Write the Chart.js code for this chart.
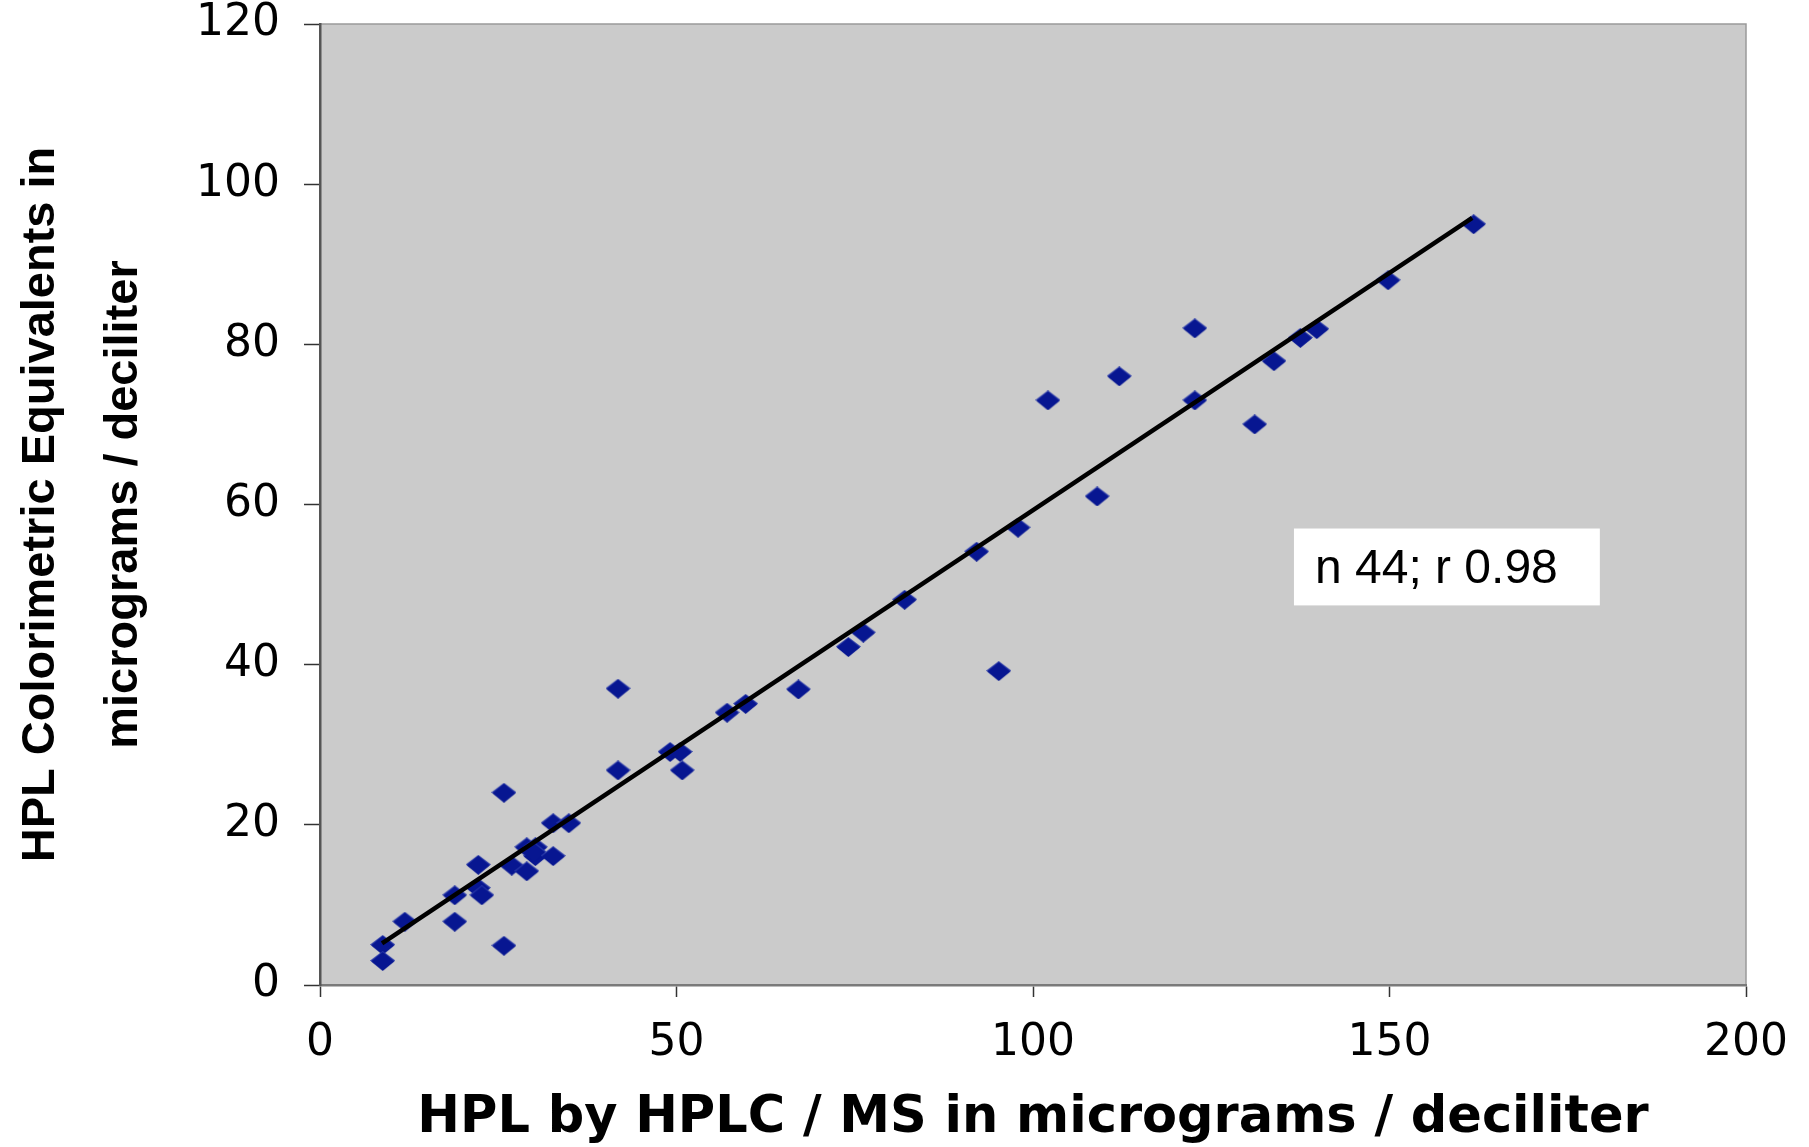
<!DOCTYPE html>
<html>
<head>
<meta charset="utf-8">
<script src="https://cdn.jsdelivr.net/npm/chart.js@4.4.1/dist/chart.umd.min.js"></script>
<style>
  body { margin: 0; background: #fff; }
  canvas { display: block; }
</style>
</head>
<body>
<canvas id="myChart" width="1809" height="1147"></canvas>
<script>
// HPLC/MS values (x) and colorimetric equivalents (y)
var hplcValues = [8.8, 8.8, 11.9, 18.9, 18.9, 22.2, 22.2, 22.7, 25.8, 25.8, 26.9, 29, 29, 30.2, 30.2, 30, 32.7, 32.7, 34.9, 41.8, 41.8,
                  49.1, 50.5, 50.8, 57.1, 59.7, 67.1, 74.1, 76.2, 82, 92.1, 95.2, 97.9, 102.1, 109, 112.1, 122.7, 122.7, 131.1,
                  133.8, 137.5, 139.8, 149.8, 161.8];
var colorValues = [5, 3, 7.9, 11.2, 7.9, 15, 12.1, 11.2, 24, 4.9, 14.9, 17.2, 14.2, 17.2, 16.1, 16.6, 20.2, 16.1, 20.2, 37, 26.8,
                   29.1, 29.1, 26.8, 34, 35.1, 36.9, 42.2, 44, 48.1, 54.1, 39.2, 57.1, 73, 61, 76, 82, 73, 70,
                   77.9, 80.8, 81.9, 88, 95];

// fitted line end points
var trendX = [8.7, 161.6];
var trendY = [5.2, 95.8];

var xTicks = [0, 50, 100, 150, 200];
var yTicks = [0, 20, 40, 60, 80, 100, 120];

var statsLabel = 'n 44; r 0.98';
var statsBoxX = [136.6, 179.5];
var statsBoxY = [47.4, 57];

var points = hplcValues.map(function (v, i) { return {x: v, y: colorValues[i]}; });
var trend = trendX.map(function (v, i) { return {x: v, y: trendY[i]}; });

// flattened diamond marker like the original
var diamond = document.createElement('canvas');
diamond.width = 25;
diamond.height = 20;
var dctx = diamond.getContext('2d');
dctx.fillStyle = '#2a3aa8';
dctx.beginPath();
dctx.moveTo(12.5, 0); dctx.lineTo(25, 9.5); dctx.lineTo(12.5, 19); dctx.lineTo(0, 9.5); dctx.closePath();
dctx.fill();
dctx.fillStyle = '#071691';
dctx.beginPath();
dctx.moveTo(12.5, 1); dctx.lineTo(24, 10.5); dctx.lineTo(12.5, 20); dctx.lineTo(1, 10.5); dctx.closePath();
dctx.fill();

const plotArea = {
    id: 'plotArea',
    beforeDraw: function (chart) {
        const a = chart.chartArea, c = chart.ctx;
        c.save();
        c.fillStyle = '#cbcbcb';
        c.fillRect(a.left, a.top, a.right - a.left, a.bottom - a.top);
        c.strokeStyle = '#9a9a9a';
        c.lineWidth = 1.5;
        c.beginPath();
        c.moveTo(a.left, a.top); c.lineTo(a.right, a.top); c.lineTo(a.right, a.bottom);
        c.stroke();
        c.restore();
    },
    afterDatasetsDraw: function (chart) {
        const xs = chart.scales.x, ys = chart.scales.y, c = chart.ctx;
        const l = xs.getPixelForValue(statsBoxX[0]), r = xs.getPixelForValue(statsBoxX[1]);
        const t = ys.getPixelForValue(statsBoxY[1]), b = ys.getPixelForValue(statsBoxY[0]);
        c.save();
        c.fillStyle = '#ffffff';
        c.fillRect(l, t, r - l, b - t);
        c.fillStyle = '#000';
        c.font = '48px "Liberation Sans", Arial, sans-serif';
        c.textBaseline = 'middle';
        c.fillText(statsLabel, l + 21, (t + b) / 2 + 3);
        c.restore();
    }
};

const ctx = document.getElementById('myChart').getContext('2d');
const myChart = new Chart(ctx, {
    type: 'scatter',
    data: {
        datasets: [{
            type: 'line',
            data: trend,
            borderColor: '#000',
            borderWidth: 4.5,
            pointRadius: 0,
            fill: false
        }, {
            data: points,
            pointStyle: diamond,
            pointRadius: 11,
            backgroundColor: '#071691',
            borderColor: '#071691'
        }]
    },
    options: {
        responsive: false,
        animation: false,
        layout: { padding: { top: 24, right: 63, left: 0, bottom: 0 } },
        plugins: { legend: { display: false }, tooltip: { enabled: false } },
        scales: {
            x: {
                type: 'linear',
                min: 0,
                max: 200,
                afterBuildTicks: function (s) { s.ticks = xTicks.map(function (v) { return {value: v}; }); },
                afterFit: function (s) { s.height = 162; },
                ticks: { color: '#000', padding: 20, maxRotation: 0, font: { family: '"DejaVu Sans"', size: 44 } },
                grid: { drawOnChartArea: false, tickLength: 12, tickColor: '#333', tickWidth: 1.5 },
                border: { color: '#7a7a7a', width: 2.5 },
                title: {
                    display: true,
                    text: 'HPL by HPLC / MS in micrograms / deciliter',
                    color: '#000',
                    padding: 0,
                    font: { family: '"DejaVu Sans"', size: 51, weight: 'bold', lineHeight: 1.11 }
                }
            },
            y: {
                min: 0,
                max: 120,
                afterBuildTicks: function (s) { s.ticks = yTicks.map(function (v) { return {value: v}; }); },
                afterFit: function (s) { s.width = 320; s.paddingTop = 0; s.paddingBottom = 0; },
                ticks: { color: '#000', padding: 24, font: { family: '"DejaVu Sans"', size: 44 } },
                grid: { drawOnChartArea: false, tickLength: 16, tickColor: '#333', tickWidth: 1.5 },
                border: { color: '#555', width: 2.5 },
                title: {
                    display: true,
                    text: ['HPL Colorimetric Equivalents in', 'micrograms / deciliter'],
                    color: '#000',
                    padding: 0,
                    font: { family: '"Liberation Sans", Arial, sans-serif', size: 47, weight: 'bold', lineHeight: 1.757 }
                }
            }
        }
    },
    plugins: [plotArea]
});
</script>
</body>
</html>
